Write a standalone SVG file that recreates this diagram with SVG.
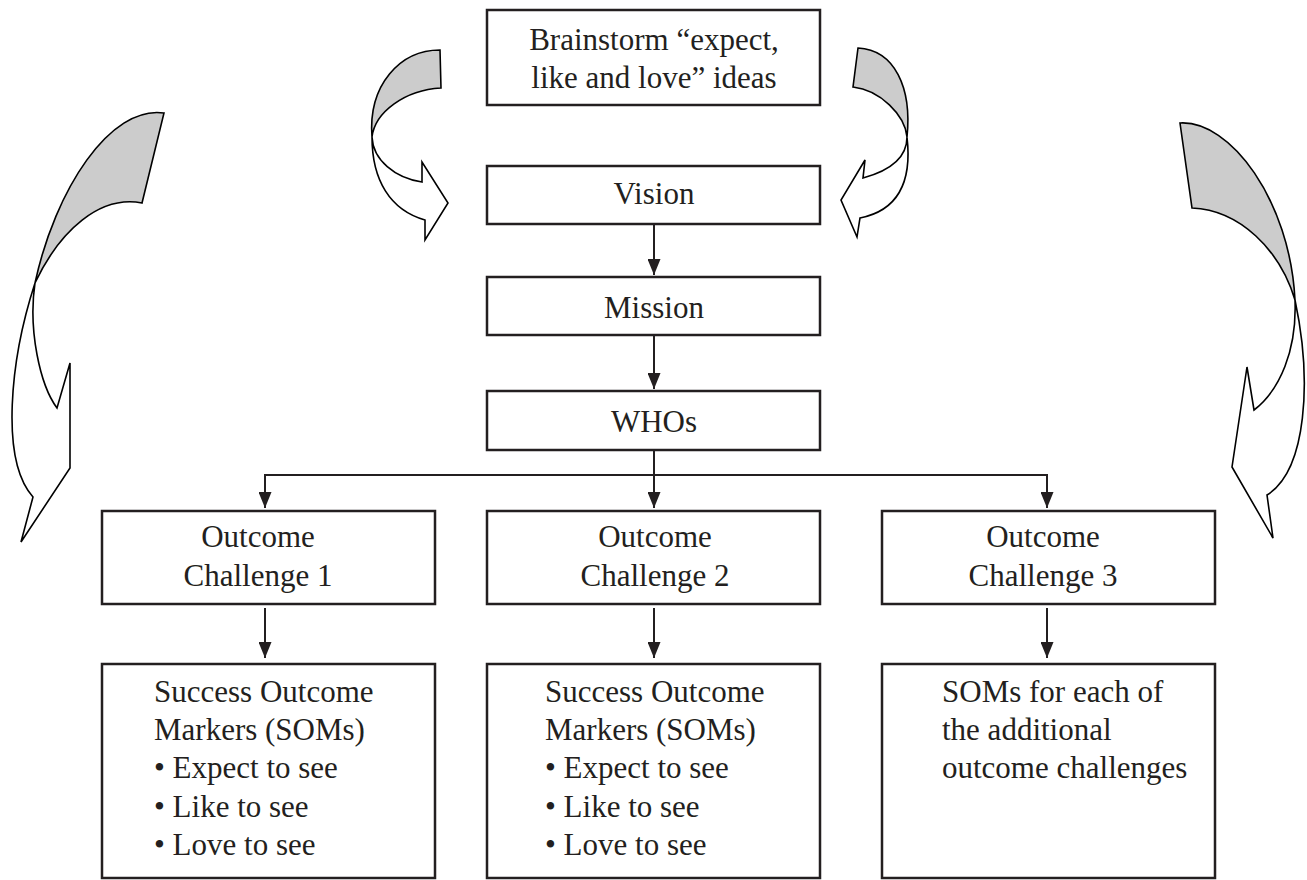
<svg xmlns="http://www.w3.org/2000/svg" width="1307" height="880" viewBox="0 0 1307 880">
<style>
.box{fill:#fff;stroke:#231f20;stroke-width:2.5}
.t{font-family:"Liberation Serif",serif;font-size:31px;fill:#231f20}
.c{text-anchor:middle}
.ln{fill:none;stroke:#231f20;stroke-width:2}
.back{fill:#cccccc;stroke:#000;stroke-width:1.6;stroke-linejoin:miter}
.front{fill:#fff;stroke:#000;stroke-width:1.6;stroke-linejoin:miter}
</style>
<defs>
<marker id="ah" markerUnits="userSpaceOnUse" markerWidth="16" markerHeight="13" refX="16" refY="6.5" orient="auto">
<path d="M0,0 L16,6.5 L0,13 Z" fill="#231f20"/>
</marker>
</defs>
<rect width="1307" height="880" fill="#fff"/>

<g id="curved-arrows">
<g id="arrow-top-left">
<path class="back" d="M440,50 C400,50 368,85 372,137 C375,112 405,90 441,88 Z"/>
<path class="front" d="M372,137 C372,180 390,210 425,220 L425,240 L448,203 L422,162 L422,182 C395,178 373,160 372,137 Z"/>
</g>
<g id="arrow-top-right">
<path class="back" d="M858,48 C895,50 912,88 907,137 C905,115 880,90 853,87 Z"/>
<path class="front" d="M907,137 C912,180 900,210 860,218 L857,237 L841,200 L865,160 L863,178 C885,172 907,160 907,137 Z"/>
</g>
<g id="arrow-left">
<path class="back" d="M164,113 C110,105 55,190 35,283 C60,230 100,195 142,203 Z"/>
<path class="front" d="M35,283 C10,360 0,460 33,497 L21,542 L70,468 L70,363 L57,408 C40,385 28,330 35,283 Z"/>
</g>
<g id="arrow-right">
<path class="back" d="M1180,123 C1230,120 1290,200 1295,300 C1280,250 1240,210 1192,208 Z"/>
<path class="front" d="M1295,300 C1312,380 1307,470 1267,495 L1273,538 L1232,467 L1247,367 L1254,410 C1280,390 1297,350 1295,300 Z"/>
</g>
</g>

<g id="connectors">
<line class="ln" x1="654" y1="224" x2="654" y2="275" marker-end="url(#ah)"/>
<line class="ln" x1="654" y1="335" x2="654" y2="389" marker-end="url(#ah)"/>
<line class="ln" x1="654" y1="450" x2="654" y2="475"/>
<line class="ln" x1="265" y1="475" x2="1047" y2="475"/>
<line class="ln" x1="265" y1="474" x2="265" y2="508" marker-end="url(#ah)"/>
<line class="ln" x1="654" y1="474" x2="654" y2="508" marker-end="url(#ah)"/>
<line class="ln" x1="1047" y1="474" x2="1047" y2="508" marker-end="url(#ah)"/>
<line class="ln" x1="265" y1="608" x2="265" y2="658" marker-end="url(#ah)"/>
<line class="ln" x1="654" y1="608" x2="654" y2="658" marker-end="url(#ah)"/>
<line class="ln" x1="1047" y1="608" x2="1047" y2="658" marker-end="url(#ah)"/>
</g>

<g id="brainstorm">
<rect class="box" x="487" y="10" width="333" height="95"/>
<text class="t c" x="654" y="50">Brainstorm “expect,</text>
<text class="t c" x="654" y="88">like and love” ideas</text>
</g>
<g id="vision">
<rect class="box" x="487" y="166" width="333" height="58"/>
<text class="t c" x="654" y="204">Vision</text>
</g>
<g id="mission">
<rect class="box" x="487" y="277" width="333" height="58"/>
<text class="t c" x="654" y="318">Mission</text>
</g>
<g id="whos">
<rect class="box" x="487" y="391" width="333" height="59"/>
<text class="t c" x="654" y="432">WHOs</text>
</g>
<g id="oc1">
<rect class="box" x="102" y="511" width="333" height="93"/>
<text class="t c" x="258" y="547">Outcome</text>
<text class="t c" x="258" y="586">Challenge 1</text>
</g>
<g id="oc2">
<rect class="box" x="487" y="511" width="333" height="93"/>
<text class="t c" x="655" y="547">Outcome</text>
<text class="t c" x="655" y="586">Challenge 2</text>
</g>
<g id="oc3">
<rect class="box" x="882" y="511" width="333" height="93"/>
<text class="t c" x="1043" y="547">Outcome</text>
<text class="t c" x="1043" y="586">Challenge 3</text>
</g>
<g id="som1">
<rect class="box" x="102" y="664" width="333" height="214"/>
<text class="t" x="154" y="702">Success Outcome</text>
<text class="t" x="154" y="740">Markers (SOMs)</text>
<text class="t" x="154" y="778">• Expect to see</text>
<text class="t" x="154" y="817">• Like to see</text>
<text class="t" x="154" y="855">• Love to see</text>
</g>
<g id="som2">
<rect class="box" x="487" y="664" width="333" height="214"/>
<text class="t" x="545" y="702">Success Outcome</text>
<text class="t" x="545" y="740">Markers (SOMs)</text>
<text class="t" x="545" y="778">• Expect to see</text>
<text class="t" x="545" y="817">• Like to see</text>
<text class="t" x="545" y="855">• Love to see</text>
</g>
<g id="som3">
<rect class="box" x="882" y="664" width="333" height="214"/>
<text class="t" x="942" y="702">SOMs for each of</text>
<text class="t" x="942" y="740">the additional</text>
<text class="t" x="942" y="778">outcome challenges</text>
</g>
</svg>
